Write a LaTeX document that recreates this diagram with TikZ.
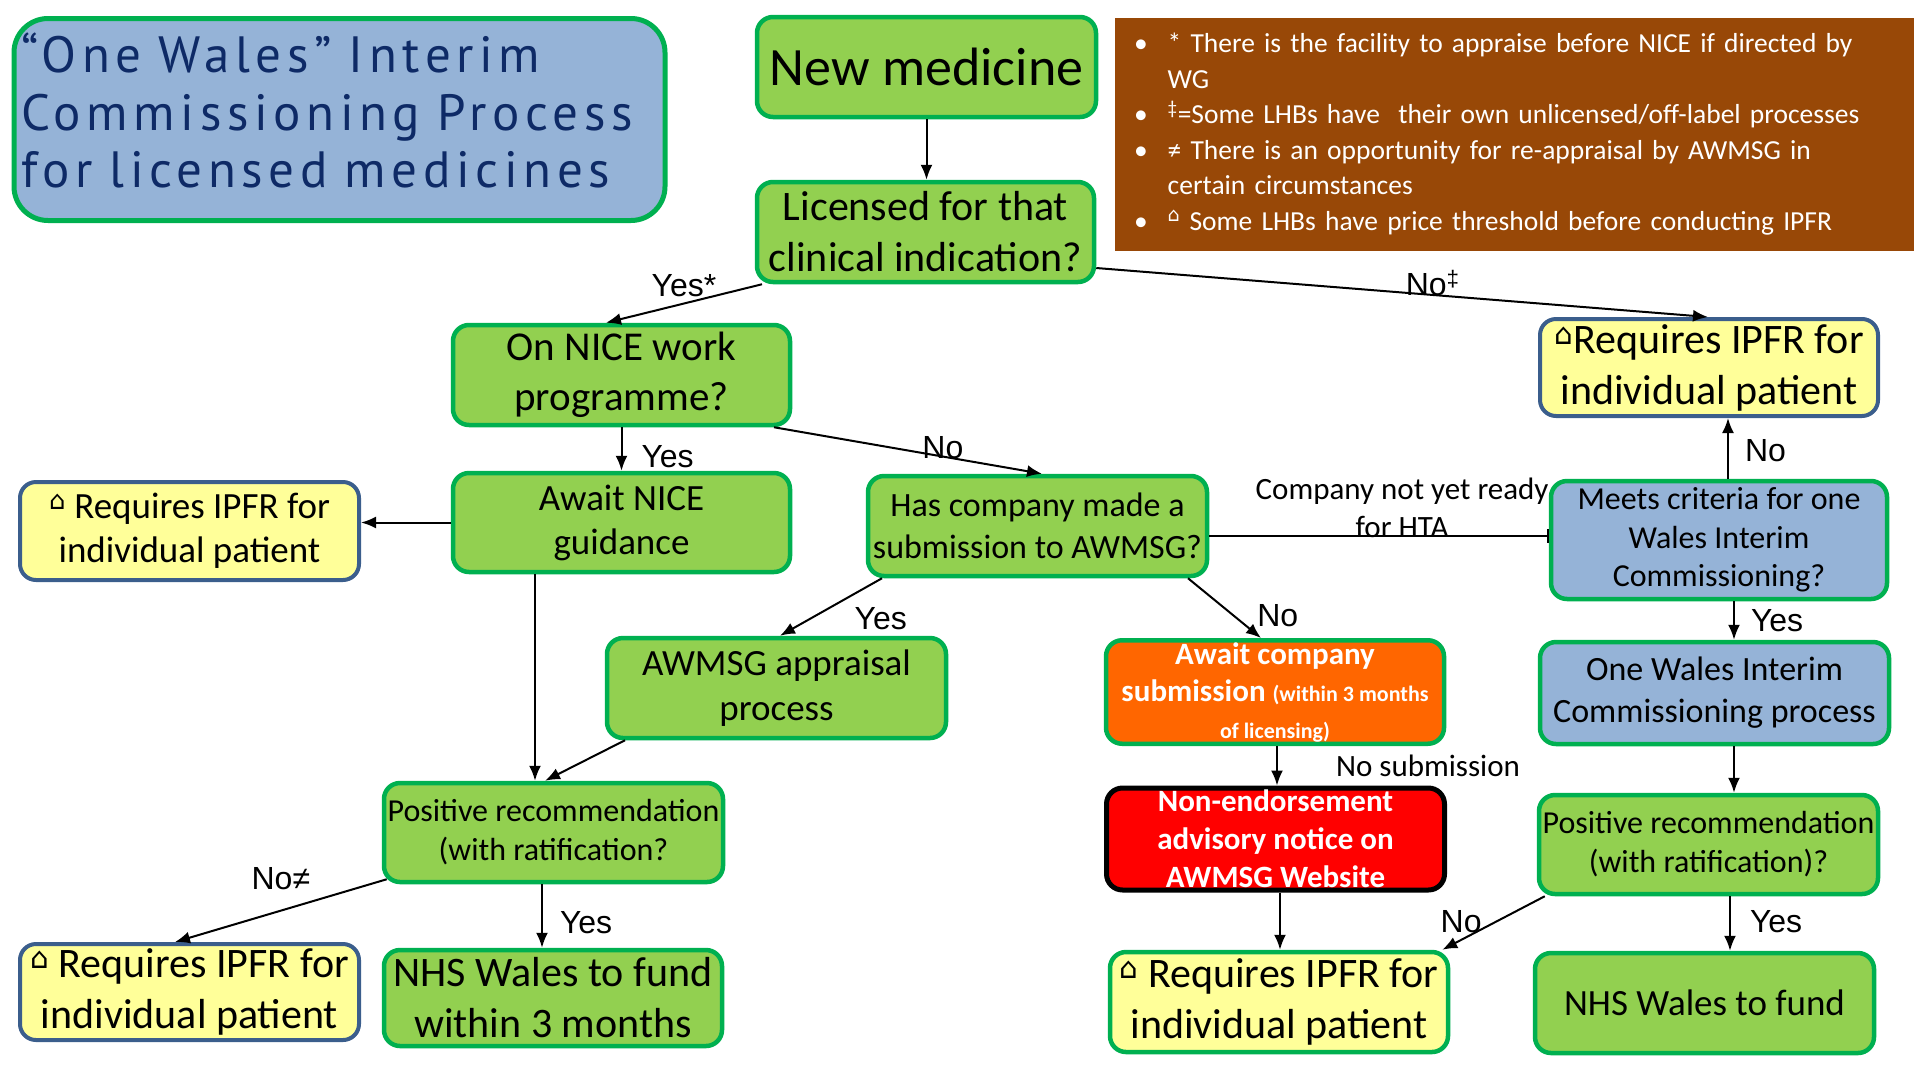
\documentclass[tikz,border=0pt]{standalone}
\usepackage{fontspec}
\setmainfont{Carlito}
\newfontfamily\titlefont[LetterSpace=11]{PT Sans}
\newfontfamily\symfont{DejaVu Sans}
\newfontfamily\arialfont{Liberation Sans}
\usetikzlibrary{arrows.meta,positioning}
\definecolor{boxgreen}{HTML}{92D050}
\definecolor{edgegreen}{HTML}{00B050}
\definecolor{boxblue}{HTML}{95B3D7}
\definecolor{edgeblue}{HTML}{3B5E8C}
\definecolor{boxyellow}{HTML}{FFFF99}
\definecolor{notebrown}{HTML}{984807}
\definecolor{boxorange}{HTML}{FF6600}
\definecolor{titleblue}{HTML}{0E2A66}
\newcommand{\fsz}[2]{\fontsize{#1}{#2}\selectfont}
\newcommand{\hs}{\textsuperscript{\symfont ⌂}}

\begin{document}
\begin{tikzpicture}[x=1pt,y=-1pt,->,>={Latex[length=15pt,width=12pt]},line width=2pt,
  block/.style = {rounded corners=16pt, draw=edgegreen, line width=4.5pt, fill=boxgreen, align=center, inner sep=2pt, text=black},
  ipfr/.style = {block, draw=edgeblue, line width=4pt, fill=boxyellow},
  query/.style = {block, fill=boxblue},
  lbl/.style = {font=\fsz{31}{38}, align=center, inner sep=3pt, text=black},
  yn/.style = {font=\arialfont\fsz{32}{36}, inner sep=3pt}]
\useasboundingbox (0,0) rectangle (1920,1080);
% title and notes
\node[query, rounded corners=34pt, line width=5pt, minimum width=651pt, minimum height=202pt, text width=637pt, inner xsep=7pt, align=left, text=titleblue, font=\titlefont\fsz{51}{57.5}] (title) at (339.5,119.5) {“One Wales” Interim\\Commissioning Process\\for licensed medicines\par\vspace*{18pt}};
\node[fill=notebrown, minimum width=799pt, minimum height=233pt, text width=761pt, inner xsep=19pt, align=left, text=white, font=\fsz{27.5}{35.5}] (notes) at (1514.5,134.5) {\begin{tabular}{@{}l@{\hspace{20pt}}l@{}}
\textbullet & * There is the facility to appraise before NICE if directed by\\
 & WG\\
\textbullet & \textsuperscript{‡}=Some LHBs have\ \ their own unlicensed/off-label processes\\
\textbullet & ≠ There is an opportunity for re-appraisal by AWMSG in\\
 & certain circumstances\\
\textbullet & \hs\ Some LHBs have price threshold before conducting IPFR
\end{tabular}};
% boxes
\node[block, minimum width=339pt, minimum height=100pt, font=\fsz{54}{64}] (newmed) at (926.5,67) {New medicine};
\node[block, minimum width=337pt, minimum height=100pt, font=\fsz{42}{51}] (licen) at (925.5,232) {Licensed for that\\clinical indication?};
\node[block, minimum width=337pt, minimum height=100pt, font=\fsz{41}{50}] (nice) at (621.5,375) {On NICE work\\programme?};
\node[ipfr, minimum width=338pt, minimum height=97pt, font=\fsz{42}{51}] (ipfrtr) at (1709,367.5) {\hs Requires IPFR for\\individual patient};
\node[block, minimum width=337pt, minimum height=99pt, font=\fsz{37}{44}] (awnice) at (621.5,522.5) {Await NICE\\guidance};
\node[block, minimum width=339pt, minimum height=100pt, font=\fsz{34}{42}] (hascomp) at (1037.5,526) {Has company made a\\submission to AWMSG?};
\node[query, minimum width=336pt, minimum height=118pt, font=\fsz{32}{38.6}] (meets) at (1719,540) {Meets criteria for one\\Wales Interim\\Commissioning?};
\node[ipfr, minimum width=339pt, minimum height=98pt, font=\fsz{37}{44}] (ipfrmid) at (189.5,531) {\hs\ Requires IPFR for\\individual patient};
\node[block, minimum width=339pt, minimum height=100pt, font=\fsz{37}{45}] (awmsg) at (776.5,688) {AWMSG appraisal\\process};
\node[block, fill=boxorange, minimum width=338pt, minimum height=101pt, text=white, font=\bfseries\fsz{31}{37}] (awco) at (1275,692) {Await company\\submission {\fsz{22}{30}(within 3 months}\\\fsz{22}{30}of licensing)};
\node[query, minimum width=349pt, minimum height=102pt, font=\fsz{34}{42}] (onewales) at (1714.5,693) {One Wales Interim\\Commissioning process};
\node[block, minimum width=339pt, minimum height=99pt, font=\fsz{32}{39}] (posl) at (553.5,832.5) {Positive recommendation\\(with ratification?};
\node[block, draw=black, line width=5pt, fill=red, minimum width=338pt, minimum height=99pt, text=white, font=\bfseries\fsz{31}{38}] (nonend) at (1275.5,839) {Non-endorsement\\advisory notice on\\AWMSG Website};
\node[block, minimum width=339pt, minimum height=99pt, font=\fsz{32}{39}] (posr) at (1708.5,844.5) {Positive recommendation\\(with ratification)?};
\node[ipfr, minimum width=339pt, minimum height=96pt, font=\fsz{42}{51}] (ipfrbl) at (189.5,992) {\hs\ Requires IPFR for\\individual patient};
\node[block, minimum width=338pt, minimum height=96pt, font=\fsz{42}{51}] (nhsl) at (553,998) {NHS Wales to fund\\within 3 months};
\node[block, draw=edgegreen, fill=boxyellow, minimum width=338pt, minimum height=100pt, font=\fsz{42}{51}] (ipfrbm) at (1279,1002) {\hs\ Requires IPFR for\\individual patient};
\node[block, minimum width=339pt, minimum height=100pt, font=\fsz{37}{45}] (nhsr) at (1704.5,1003) {NHS Wales to fund};
% connectors
\path (newmed.south) edge (newmed.south |- licen.north)
      ([xshift=-163.5pt]licen.south) edge node[yn, above=3pt] {Yes*} ([xshift=-15.5pt]nice.north)
      ([yshift=-36pt]licen.east) edge node[yn, pos=.55, above=-5pt] {No\textsuperscript{‡}} ([xshift=-1pt]ipfrtr.north)
      (nice.south) edge node[yn, pos=.68, right=16pt] {Yes} (nice.south |- awnice.north)
      ([xshift=152.5pt]nice.south) edge node[yn, pos=.63, above=-6pt] {No} ([xshift=4.5pt]hascomp.north)
      (awnice.west) edge (awnice.west -| ipfrmid.east)
      ([xshift=-86.5pt]awnice.south) edge ([xshift=-86.5pt]awnice.south |- posl.north)
      ([yshift=-10pt]hascomp.east) edge[-{Bar[width=14pt]}] node[lbl, pos=.568, above=-6pt] {Company not yet ready\\for HTA} ([yshift=-10pt]hascomp.east -| meets.west)
      ([xshift=9pt]meets.north) edge node[yn, pos=.47, right=13pt] {No} ([xshift=9pt]meets.north |- ipfrtr.south)
      ([xshift=15pt]meets.south) edge node[yn, pos=.51, right=13pt] {Yes} ([xshift=15pt]meets.south |- onewales.north)
      ([xshift=-155.5pt]hascomp.south) edge node[yn, pos=.7, right=40pt] {Yes} ([xshift=3.5pt]awmsg.north)
      ([xshift=150.5pt]hascomp.south) edge node[yn, pos=.62, right=20pt] {No} ([xshift=-14pt]awco.north)
      ([xshift=-151.5pt]awmsg.south) edge ([xshift=-8.5pt]posl.north)
      ([xshift=2pt]awco.south) edge node[lbl, right=55pt] {No submission} ([xshift=2pt]awco.south |- nonend.north)
      ([xshift=4.5pt]nonend.south) edge ([xshift=4.5pt]nonend.south |- ipfrbm.north)
      ([xshift=19.5pt]onewales.south) edge ([xshift=19.5pt]onewales.south |- posr.north)
      ([xshift=8pt]posr.south west) edge node[yn, pos=.48, left=10pt] {No} ([xshift=-8pt]ipfrbm.north east)
      ([xshift=21.5pt]posr.south) edge node[yn, pos=.47, right=16pt] {Yes} ([xshift=21.5pt]posr.south |- nhsr.north)
      ([xshift=-11.5pt]posl.south) edge node[yn, pos=.6, right=14pt] {Yes} ([xshift=-11.5pt]posl.south |- nhsl.north)
      ([xshift=5pt,yshift=5pt]posl.south west) edge node[yn, pos=.5, above=17pt] {No≠} ([xshift=-14.5pt]ipfrbl.north);
\end{tikzpicture}
\end{document}
